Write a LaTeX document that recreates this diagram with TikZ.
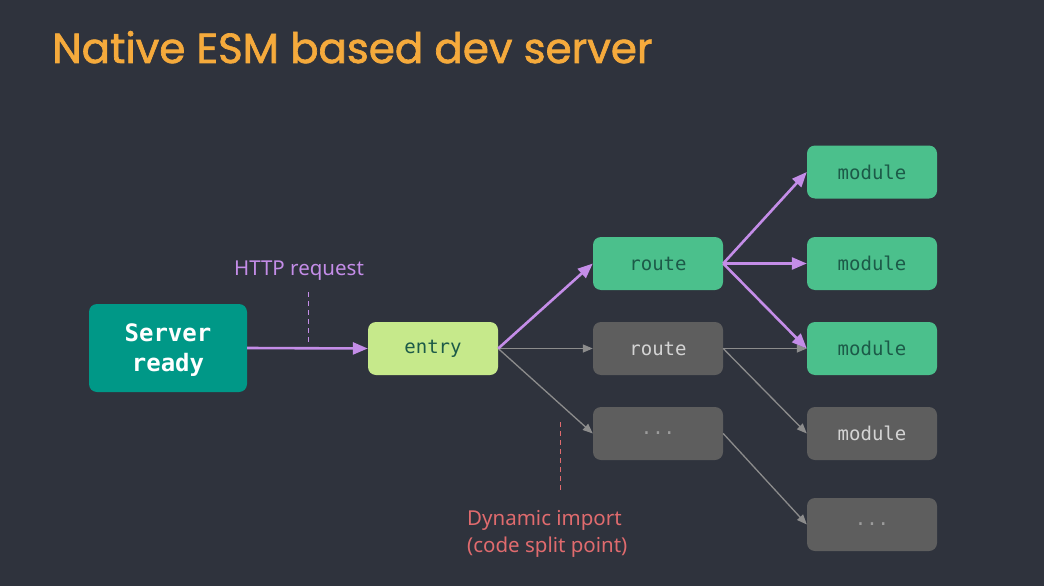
\documentclass[tikz,border=0pt]{standalone}
\usepackage{fontspec}
\setmainfont{Noto Sans}
\newfontfamily\titlefont[FakeBold=1.6]{Poppins}
\newfontfamily\codefont{DejaVu Sans Mono}
\usetikzlibrary{arrows.meta}
\definecolor{bgdark}{HTML}{2F333D}
\definecolor{titleorange}{HTML}{F5AA3C}
\definecolor{serverteal}{HTML}{009887}
\definecolor{entrylime}{HTML}{C6E98B}
\definecolor{modgreen}{HTML}{4BC08C}
\definecolor{modtext}{HTML}{1C5A48}
\definecolor{boxgray}{HTML}{5E5E5E}
\definecolor{graytext}{HTML}{D4D4D4}
\definecolor{dimtext}{HTML}{9C9C9C}
\definecolor{linegray}{HTML}{8C8C8C}
\definecolor{lavender}{HTML}{C48DE8}
\definecolor{splitred}{HTML}{E06B6E}
\tikzset{
  box/.style={rounded corners=8pt, minimum width=130pt, minimum height=53pt,
    inner sep=0pt, font=\codefont\fontsize{19}{19}\selectfont},
  hotbox/.style={box, fill=modgreen, text=modtext},
  coldbox/.style={box, fill=boxgray, text=graytext},
  hotlink/.style={draw=lavender, line width=2.6pt, -{Triangle[length=15pt,width=12pt]}},
  coldlink/.style={draw=linegray, line width=1.3pt, -{Triangle[length=10pt,width=8pt]}},
  label/.style={font=\fontsize{20.5}{27}\selectfont, inner sep=0pt}
}
\begin{document}
\begin{tikzpicture}[x=1pt,y=-1pt]
\fill[bgdark] (0,0) rectangle (1044,586);
\useasboundingbox (0,0) rectangle (1044,586);

% title
\node[anchor=base west, inner sep=0pt, text=titleorange,
  font=\titlefont\fontsize{42}{42}\selectfont] (title) at (52,63) {Native ESM based dev server};

% boxes
\node[box, fill=serverteal, text=white, minimum width=158pt, minimum height=88pt,
  align=center, text depth=0pt, font=\codefont\bfseries\fontsize{24}{30}\selectfont] (srv) at (168,348) {Server\\ready};
\node[box, fill=entrylime, text=modtext] (entry) at (433,348.5) {entry};
\node[hotbox] (r1) at (658,263.5) {route};
\node[coldbox] (r2) at (658,348.5) {route};
\node[coldbox, text=dimtext] (r3) at (658,433.5) {...};
\node[hotbox] (m1) at (872,172) {module};
\node[hotbox] (m2) at (872,263.5) {module};
\node[hotbox] (m3) at (872,348.5) {module};
\node[coldbox] (m4) at (872,433.5) {module};
\node[coldbox, text=dimtext] (m5) at (872,524.5) {...};

% labels
\node[label, text=lavender] (http) at (299,271) {HTTP request};
\coordinate (h1) at (308,292);
\coordinate (h2) at (308,345);
\draw[lavender, line width=1pt, dash pattern=on 5pt off 4pt] (h1) -- (h2);
\node[label, text=splitred, align=left, anchor=north west] (dyn) at (467,510) {Dynamic import\\(code split point)};
\coordinate (d1) at (560,422);
\coordinate (d2) at (560,493);
\draw[splitred, line width=1pt, dash pattern=on 5pt off 4pt] (d1) -- (d2);

% connectors
\draw[coldlink] (entry.east) -- (r2.west);
\draw[coldlink] (entry.east) -- (r3.west);
\draw[coldlink] (r2.east) -- (m3.west);
\draw[coldlink] (r2.east) -- (m4.west);
\draw[coldlink] (r3.east) -- (m5.west);
\draw[hotlink] (srv.east) -- (entry.west);
\draw[hotlink] (entry.east) -- (r1.west);
\draw[hotlink] (r1.east) -- (m1.west);
\draw[hotlink] (r1.east) -- (m2.west);
\draw[hotlink] (r1.east) -- (m3.west);
\end{tikzpicture}
\end{document}
